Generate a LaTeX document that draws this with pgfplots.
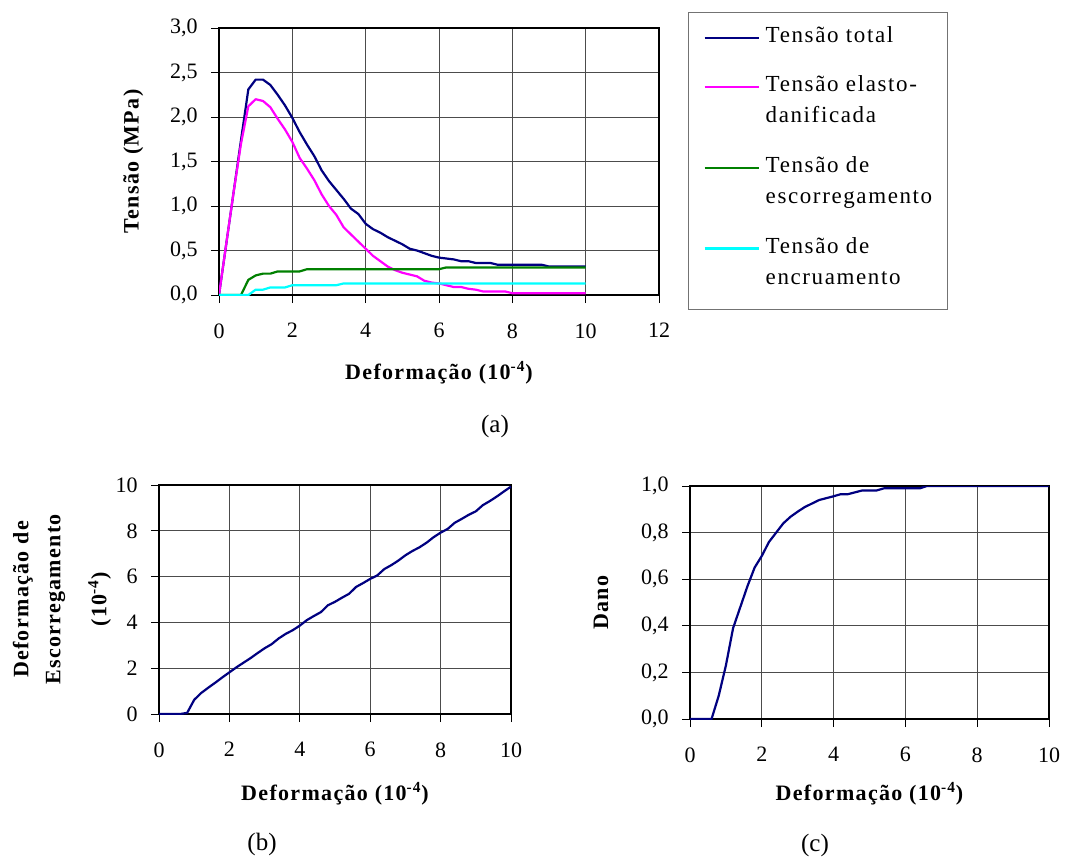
\documentclass[border=0pt]{standalone}
\usepackage{fontspec}
\setmainfont{Liberation Serif}
\newfontfamily\spc[LetterSpace=6]{Liberation Serif}
\newfontfamily\lgf[LetterSpace=7]{Liberation Serif}
\usepackage{pgfplots}
\usepackage{pgfplotstable}
\pgfplotsset{compat=1.18}
\pgfkeys{/pgf/number format/assume math mode=true}
\newcommand\lblfont{\spc\bfseries\fontsize{11}{16}\selectfont}

\definecolor{xnavy}{RGB}{0,0,128}
\definecolor{xmag}{RGB}{255,0,255}
\definecolor{xgreen}{RGB}{0,128,0}
\definecolor{xcyan}{RGB}{0,255,255}

\pgfplotstableread{
x tot ela esc enc
0.0 0.00 0.00 0.00 0.00
0.2 0.58 0.58 0.00 0.00
0.4 1.16 1.16 0.00 0.00
0.6 1.74 1.70 0.00 0.00
0.8 2.31 2.12 0.17 0.00
1.0 2.42 2.20 0.22 0.06
1.2 2.42 2.18 0.24 0.06
1.4 2.36 2.11 0.24 0.085
1.6 2.25 1.98 0.265 0.085
1.8 2.13 1.86 0.265 0.085
2.0 1.99 1.72 0.265 0.11
2.2 1.83 1.54 0.265 0.11
2.4 1.69 1.42 0.29 0.11
2.6 1.56 1.29 0.29 0.11
2.8 1.40 1.13 0.29 0.11
3.0 1.28 1.00 0.29 0.11
3.2 1.18 0.90 0.29 0.11
3.4 1.08 0.76 0.29 0.13
3.6 0.97 0.68 0.29 0.13
3.8 0.91 0.60 0.29 0.13
4.0 0.80 0.52 0.29 0.13
4.2 0.74 0.44 0.29 0.13
4.4 0.70 0.38 0.29 0.13
4.6 0.65 0.32 0.29 0.13
4.8 0.61 0.28 0.29 0.13
5.0 0.57 0.25 0.29 0.13
5.2 0.52 0.23 0.29 0.13
5.4 0.50 0.21 0.29 0.13
5.6 0.47 0.16 0.29 0.13
5.8 0.44 0.14 0.29 0.13
6.0 0.42 0.13 0.29 0.13
6.2 0.41 0.11 0.31 0.13
6.4 0.40 0.09 0.31 0.13
6.6 0.38 0.09 0.31 0.13
6.8 0.38 0.07 0.31 0.13
7.0 0.36 0.06 0.31 0.13
7.2 0.36 0.04 0.31 0.13
7.4 0.36 0.04 0.31 0.13
7.6 0.34 0.04 0.31 0.13
7.8 0.34 0.04 0.31 0.13
8.0 0.34 0.02 0.31 0.13
8.2 0.34 0.02 0.31 0.13
8.4 0.34 0.02 0.31 0.13
8.6 0.34 0.02 0.31 0.13
8.8 0.34 0.02 0.31 0.13
9.0 0.32 0.02 0.31 0.13
9.2 0.32 0.02 0.31 0.13
9.4 0.32 0.02 0.31 0.13
9.6 0.32 0.02 0.31 0.13
9.8 0.32 0.02 0.31 0.13
10.0 0.32 0.02 0.31 0.13
}\dataA

\pgfplotstableread{
x y
0.0 0.00
0.2 0.00
0.4 0.00
0.6 0.00
0.8 0.05
1.0 0.62
1.2 0.92
1.4 1.15
1.6 1.37
1.8 1.60
2.0 1.82
2.2 2.04
2.4 2.24
2.6 2.44
2.8 2.66
3.0 2.87
3.2 3.05
3.4 3.30
3.6 3.50
3.8 3.66
4.0 3.86
4.2 4.10
4.4 4.28
4.6 4.45
4.8 4.75
5.0 4.90
5.2 5.08
5.4 5.25
5.6 5.55
5.8 5.72
6.0 5.90
6.2 6.05
6.4 6.33
6.6 6.50
6.8 6.70
7.0 6.93
7.2 7.12
7.4 7.28
7.6 7.48
7.8 7.72
8.0 7.92
8.2 8.08
8.4 8.35
8.6 8.52
8.8 8.70
9.0 8.85
9.2 9.12
9.4 9.30
9.6 9.50
9.8 9.72
10.0 9.93
}\dataB

\pgfplotstableread{
x y
0.0 0.00
0.2 0.00
0.4 0.00
0.6 0.00
0.8 0.10
1.0 0.23
1.2 0.39
1.4 0.48
1.6 0.57
1.8 0.65
2.0 0.70
2.2 0.76
2.4 0.80
2.6 0.84
2.8 0.868
3.0 0.89
3.2 0.91
3.4 0.925
3.6 0.94
3.8 0.948
4.0 0.956
4.2 0.965
4.4 0.965
4.6 0.973
4.8 0.981
5.0 0.981
5.2 0.981
5.4 0.99
5.6 0.99
5.8 0.99
6.0 0.99
6.2 0.99
6.4 0.99
6.6 1.00
6.8 1.00
7.0 1.00
8.0 1.00
9.0 1.00
10.0 1.00
}\dataC

\pgfplotsset{
  excel/.style={
    scale only axis,
    axis line style={black, line width=0.6pt},
    grid=major,
    major grid style={black!70, line width=0.5pt},
    tick align=outside,
    tick pos=left,
    major tick length=4pt,
    every tick/.style={black, line width=0.5pt},
    tick label style={font=\fontsize{11}{13}\selectfont},
    xticklabel style={anchor=north, inner sep=0pt, yshift=-10pt},
    yticklabel style={anchor=east, inner sep=0pt, xshift=-6.5pt},
    every axis plot/.append style={line width=1.1pt, line join=round, mark=none},
  },
  comma1/.style={yticklabel style={/pgf/number format/.cd, fixed, fixed zerofill, precision=1, use comma}},
}

\begin{document}
\begin{tikzpicture}
\path[use as bounding box] (0,0) rectangle (534.5pt,-428pt);

% ---------------- (a) ----------------
\begin{axis}[excel, comma1,
  at={(109.5pt,-147.5pt)}, anchor=south west,
  width=220pt, height=133.5pt,
  xmin=0, xmax=12, ymin=0, ymax=3,
  xtick={0,2,4,6,8,10,12},
  ytick={0,0.5,1,1.5,2,2.5,3},
  xlabel={Deformação (10\textsuperscript{-4})},
  ylabel={Tensão (MPa)},
  every axis x label/.style={at={(axis description cs:0.5,-0.318)}, anchor=base, font=\lblfont},
  every axis y label/.style={at={(axis description cs:-0.195,0.5)}, rotate=90, anchor=center, font=\lblfont},
  legend image code/.code={\draw[#1, line width=1.1pt] (0pt,2.3pt) -- (27pt,2.3pt);},
  legend style={at={(1,1)}, anchor=north west, xshift=14.5pt, yshift=8pt,
    draw=black!55, line width=0.5pt, fill=white,
    inner xsep=7.5pt, inner ysep=4pt, row sep=9.3pt, column sep=3pt,
    font=\lgf\fontsize{11.5}{15.5}\selectfont,
    cells={anchor=base west},
    nodes={inner sep=0pt, text depth=, anchor=base west}},
]
\addplot[xnavy] table[x=x, y=tot] {\dataA};
\addlegendentry{\begin{tabular}[t]{@{}l@{}}Tensão total\\ \end{tabular}}
\addplot[xmag] table[x=x, y=ela] {\dataA};
\addlegendentry{\begin{tabular}[t]{@{}l@{}}Tensão elasto-\\danificada\end{tabular}}
\addplot[xgreen] table[x=x, y=esc] {\dataA};
\addlegendentry{\begin{tabular}[t]{@{}l@{}}Tensão de\\escorregamento\end{tabular}}
\addplot[xcyan] table[x=x, y=enc] {\dataA};
\addlegendentry{\begin{tabular}[t]{@{}l@{}}Tensão de\\encruamento\rule[-8.5pt]{0pt}{0pt}\end{tabular}}
\end{axis}

% ---------------- (b) ----------------
\begin{axis}[excel,
  at={(79.5pt,-357pt)}, anchor=south west,
  width=176pt, height=114.5pt,
  xmin=0, xmax=10, ymin=0, ymax=10,
  xtick={0,2,4,6,8,10},
  ytick={0,2,4,6,8,10},
  xlabel={Deformação (10\textsuperscript{-4})},
  ylabel={Deformação de\\Escorregamento\\[7pt](10\textsuperscript{-4})},
  every axis x label/.style={at={(axis description cs:0.5,-0.3755)}, anchor=base, font=\lblfont},
  every axis y label/.style={at={(axis description cs:-0.2756,0.5)}, rotate=90, anchor=center, font=\lblfont, align=center},
]
\addplot[xnavy] table[x=x, y=y] {\dataB};
\end{axis}

% ---------------- (c) ----------------
\begin{axis}[excel, comma1,
  at={(345pt,-359.5pt)}, anchor=south west,
  width=179.5pt, height=116.5pt,
  xmin=0, xmax=10, ymin=0, ymax=1,
  xtick={0,2,4,6,8,10},
  ytick={0,0.2,0.4,0.6,0.8,1},
  xlabel={Deformação (10\textsuperscript{-4})},
  ylabel={Dano},
  every axis x label/.style={at={(axis description cs:0.5,-0.348)}, anchor=base, font=\lblfont},
  every axis y label/.style={at={(axis description cs:-0.248,0.5)}, rotate=90, anchor=center, font=\lblfont},
]
\addplot[xnavy] table[x=x, y=y] {\dataC};
\end{axis}

% captions
\node[font=\fontsize{12.5}{14}\selectfont] at (247.5pt,-213pt) {(a)};
\node[font=\fontsize{12.5}{14}\selectfont] at (131pt,-422pt) {(b)};
\node[font=\fontsize{12.5}{14}\selectfont] at (407.5pt,-422.5pt) {(c)};
\end{tikzpicture}
\end{document}
